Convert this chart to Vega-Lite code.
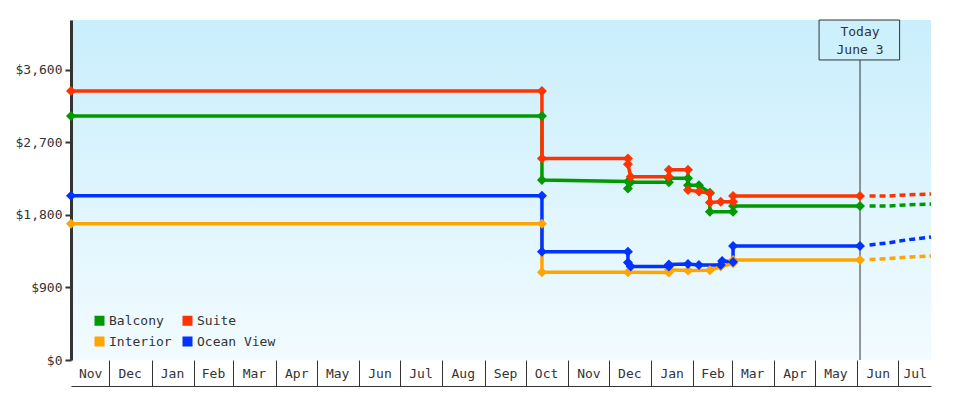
{
  "$schema": "https://vega.github.io/schema/vega-lite/v6.json",
  "width": 860,
  "height": 340,
  "autosize": "none",
  "padding": {"left": 71, "top": 20, "right": 49, "bottom": 40},
  "background": "white",
  "datasets": {
    "history": [
      {"room": "Interior", "seq": 1, "date": "2023-11-03", "price": 1690},
      {"room": "Interior", "seq": 2, "date": "2024-10-13", "price": 1690},
      {"room": "Interior", "seq": 3, "date": "2024-10-13", "price": 1090},
      {"room": "Interior", "seq": 4, "date": "2024-12-15", "price": 1090},
      {"room": "Interior", "seq": 5, "date": "2025-01-14", "price": 1085},
      {"room": "Interior", "seq": 6, "date": "2025-01-14", "price": 1120},
      {"room": "Interior", "seq": 7, "date": "2025-01-28", "price": 1110},
      {"room": "Interior", "seq": 8, "date": "2025-02-13", "price": 1115},
      {"room": "Interior", "seq": 9, "date": "2025-02-21", "price": 1160},
      {"room": "Interior", "seq": 10, "date": "2025-03-02", "price": 1200},
      {"room": "Interior", "seq": 11, "date": "2025-03-02", "price": 1240},
      {"room": "Interior", "seq": 12, "date": "2025-06-03", "price": 1240},

      {"room": "Balcony", "seq": 1, "date": "2023-11-03", "price": 3030},
      {"room": "Balcony", "seq": 2, "date": "2024-10-13", "price": 3030},
      {"room": "Balcony", "seq": 3, "date": "2024-10-13", "price": 2235},
      {"room": "Balcony", "seq": 4, "date": "2024-12-15", "price": 2215},
      {"room": "Balcony", "seq": 5, "date": "2024-12-15", "price": 2130},
      {"room": "Balcony", "seq": 6, "date": "2024-12-17", "price": 2205},
      {"room": "Balcony", "seq": 7, "date": "2025-01-14", "price": 2205},
      {"room": "Balcony", "seq": 8, "date": "2025-01-14", "price": 2255},
      {"room": "Balcony", "seq": 9, "date": "2025-01-28", "price": 2255},
      {"room": "Balcony", "seq": 10, "date": "2025-01-28", "price": 2170},
      {"room": "Balcony", "seq": 11, "date": "2025-02-05", "price": 2170},
      {"room": "Balcony", "seq": 12, "date": "2025-02-13", "price": 2075},
      {"room": "Balcony", "seq": 13, "date": "2025-02-13", "price": 1840},
      {"room": "Balcony", "seq": 14, "date": "2025-03-02", "price": 1840},
      {"room": "Balcony", "seq": 15, "date": "2025-03-02", "price": 1910},
      {"room": "Balcony", "seq": 16, "date": "2025-06-03", "price": 1910},

      {"room": "Ocean View", "seq": 1, "date": "2023-11-03", "price": 2040},
      {"room": "Ocean View", "seq": 2, "date": "2024-10-13", "price": 2040},
      {"room": "Ocean View", "seq": 3, "date": "2024-10-13", "price": 1345},
      {"room": "Ocean View", "seq": 4, "date": "2024-12-15", "price": 1345},
      {"room": "Ocean View", "seq": 5, "date": "2024-12-15", "price": 1210},
      {"room": "Ocean View", "seq": 6, "date": "2024-12-17", "price": 1160},
      {"room": "Ocean View", "seq": 7, "date": "2025-01-14", "price": 1160},
      {"room": "Ocean View", "seq": 8, "date": "2025-01-14", "price": 1185},
      {"room": "Ocean View", "seq": 9, "date": "2025-01-28", "price": 1190},
      {"room": "Ocean View", "seq": 10, "date": "2025-02-05", "price": 1180},
      {"room": "Ocean View", "seq": 11, "date": "2025-02-21", "price": 1180},
      {"room": "Ocean View", "seq": 12, "date": "2025-02-22", "price": 1230},
      {"room": "Ocean View", "seq": 13, "date": "2025-03-02", "price": 1215},
      {"room": "Ocean View", "seq": 14, "date": "2025-03-02", "price": 1415},
      {"room": "Ocean View", "seq": 15, "date": "2025-06-03", "price": 1415},

      {"room": "Suite", "seq": 1, "date": "2023-11-03", "price": 3340},
      {"room": "Suite", "seq": 2, "date": "2024-10-13", "price": 3340},
      {"room": "Suite", "seq": 3, "date": "2024-10-13", "price": 2500},
      {"room": "Suite", "seq": 4, "date": "2024-12-15", "price": 2500},
      {"room": "Suite", "seq": 5, "date": "2024-12-15", "price": 2430},
      {"room": "Suite", "seq": 6, "date": "2024-12-17", "price": 2275},
      {"room": "Suite", "seq": 7, "date": "2025-01-14", "price": 2275},
      {"room": "Suite", "seq": 8, "date": "2025-01-14", "price": 2360},
      {"room": "Suite", "seq": 9, "date": "2025-01-28", "price": 2360},
      {"room": "Suite", "seq": 10, "date": "2025-01-28", "price": 2110},
      {"room": "Suite", "seq": 11, "date": "2025-02-05", "price": 2090},
      {"room": "Suite", "seq": 12, "date": "2025-02-13", "price": 2070},
      {"room": "Suite", "seq": 13, "date": "2025-02-13", "price": 1955},
      {"room": "Suite", "seq": 14, "date": "2025-02-21", "price": 1965},
      {"room": "Suite", "seq": 15, "date": "2025-03-02", "price": 1965},
      {"room": "Suite", "seq": 16, "date": "2025-03-02", "price": 2035},
      {"room": "Suite", "seq": 17, "date": "2025-06-03", "price": 2035}
    ],
    "forecast": [
      {"room": "Interior", "date": "2025-06-10", "price": 1248},
      {"room": "Interior", "date": "2025-06-23", "price": 1257},
      {"room": "Interior", "date": "2025-07-07", "price": 1275},
      {"room": "Interior", "date": "2025-07-25", "price": 1291},
      {"room": "Balcony", "date": "2025-06-10", "price": 1910},
      {"room": "Balcony", "date": "2025-06-23", "price": 1910},
      {"room": "Balcony", "date": "2025-07-07", "price": 1925},
      {"room": "Balcony", "date": "2025-07-25", "price": 1935},
      {"room": "Ocean View", "date": "2025-06-10", "price": 1428},
      {"room": "Ocean View", "date": "2025-06-23", "price": 1452},
      {"room": "Ocean View", "date": "2025-07-07", "price": 1490},
      {"room": "Ocean View", "date": "2025-07-25", "price": 1527},
      {"room": "Suite", "date": "2025-06-10", "price": 2035},
      {"room": "Suite", "date": "2025-06-23", "price": 2035},
      {"room": "Suite", "date": "2025-07-07", "price": 2050},
      {"room": "Suite", "date": "2025-07-25", "price": 2060}
    ],
    "today": [
      {"date": "2025-06-03", "boxStart": "2025-05-04", "boxEnd": "2025-07-02", "floor": 0, "low": 3724, "high": 4220, "mid": 3972, "label": "Today\nJune 3"}
    ]
  },
  "encoding": {
    "x": {
      "field": "date",
      "type": "temporal",
      "scale": {
        "type": "utc",
        "domain": [
          {"year": 2023, "month": 11, "date": 3, "utc": true},
          {"year": 2025, "month": 7, "date": 25, "utc": true}
        ]
      },
      "axis": {
        "title": null,
        "offset": 26,
        "domainColor": "#333",
        "domainWidth": 1,
        "tickSize": -26,
        "tickColor": "#333",
        "tickWidth": 1,
        "tickOpacity": {"condition": {"test": "utcdate(datum.value) != 1", "value": 0}, "value": 1},
        "labelBaseline": "middle",
        "labelAlign": "center",
        "labelPadding": 13,
        "labelOverlap": false,
        "labelFlush": false,
        "labelExpr": "utcdate(datum.value) == 1 ? '' : utcFormat(datum.value, '%b')",
        "values": [
          {"year": 2023, "month": 11, "date": 17, "utc": true},
          {"year": 2023, "month": 12, "date": 1, "utc": true},
          {"year": 2023, "month": 12, "date": 16, "utc": true},
          {"year": 2024, "month": 1, "date": 1, "utc": true},
          {"year": 2024, "month": 1, "date": 16, "utc": true},
          {"year": 2024, "month": 2, "date": 1, "utc": true},
          {"year": 2024, "month": 2, "date": 15, "utc": true},
          {"year": 2024, "month": 3, "date": 1, "utc": true},
          {"year": 2024, "month": 3, "date": 16, "utc": true},
          {"year": 2024, "month": 4, "date": 1, "utc": true},
          {"year": 2024, "month": 4, "date": 16, "utc": true},
          {"year": 2024, "month": 5, "date": 1, "utc": true},
          {"year": 2024, "month": 5, "date": 16, "utc": true},
          {"year": 2024, "month": 6, "date": 1, "utc": true},
          {"year": 2024, "month": 6, "date": 16, "utc": true},
          {"year": 2024, "month": 7, "date": 1, "utc": true},
          {"year": 2024, "month": 7, "date": 16, "utc": true},
          {"year": 2024, "month": 8, "date": 1, "utc": true},
          {"year": 2024, "month": 8, "date": 16, "utc": true},
          {"year": 2024, "month": 9, "date": 1, "utc": true},
          {"year": 2024, "month": 9, "date": 16, "utc": true},
          {"year": 2024, "month": 10, "date": 1, "utc": true},
          {"year": 2024, "month": 10, "date": 16, "utc": true},
          {"year": 2024, "month": 11, "date": 1, "utc": true},
          {"year": 2024, "month": 11, "date": 16, "utc": true},
          {"year": 2024, "month": 12, "date": 1, "utc": true},
          {"year": 2024, "month": 12, "date": 16, "utc": true},
          {"year": 2025, "month": 1, "date": 1, "utc": true},
          {"year": 2025, "month": 1, "date": 16, "utc": true},
          {"year": 2025, "month": 2, "date": 1, "utc": true},
          {"year": 2025, "month": 2, "date": 15, "utc": true},
          {"year": 2025, "month": 3, "date": 1, "utc": true},
          {"year": 2025, "month": 3, "date": 16, "utc": true},
          {"year": 2025, "month": 4, "date": 1, "utc": true},
          {"year": 2025, "month": 4, "date": 16, "utc": true},
          {"year": 2025, "month": 5, "date": 1, "utc": true},
          {"year": 2025, "month": 5, "date": 16, "utc": true},
          {"year": 2025, "month": 6, "date": 1, "utc": true},
          {"year": 2025, "month": 6, "date": 16, "utc": true},
          {"year": 2025, "month": 7, "date": 1, "utc": true},
          {"year": 2025, "month": 7, "date": 13, "utc": true}
        ]
      }
    },
    "y": {
      "field": "price",
      "type": "quantitative",
      "scale": {"domain": [0, 4220], "nice": false},
      "axis": {
        "title": null,
        "values": [0, 900, 1800, 2700, 3600],
        "format": "$,.0f",
        "domainColor": "#333",
        "domainWidth": 3,
        "tickColor": "#333",
        "tickWidth": 2,
        "tickSize": 6,
        "labelPadding": 3
      }
    },
    "color": {
      "field": "room",
      "type": "nominal",
      "scale": {
        "domain": ["Balcony", "Suite", "Interior", "Ocean View"],
        "range": ["#009900", "#ff3300", "#ffa500", "#0033ff"]
      },
      "legend": {
        "title": null,
        "orient": "none",
        "direction": "horizontal",
        "legendX": 22,
        "legendY": 294,
        "columns": 2,
        "padding": 0,
        "rowPadding": 7,
        "columnPadding": 9,
        "symbolType": "square",
        "symbolSize": 100,
        "symbolStrokeWidth": 0,
        "symbolOpacity": 1,
        "labelOffset": 3,
        "labelFont": "DejaVu Sans Mono",
        "labelFontSize": 13,
        "labelColor": "#333"
      }
    }
  },
  "layer": [
    {
      "mark": {"type": "rule", "color": "#333", "strokeWidth": 1},
      "encoding": {"x": null, "color": null, "y": {"datum": 0}}
    },
    {
      "data": {"name": "today"},
      "mark": {"type": "rule", "color": "#333", "strokeWidth": 1},
      "encoding": {
        "color": null,
        "y": {"field": "floor", "type": "quantitative"},
        "y2": {"field": "low"}
      }
    },
    {
      "data": {"name": "today"},
      "mark": {"type": "rect", "fill": "#ccf0fc", "stroke": "#333", "strokeWidth": 1},
      "encoding": {
        "color": null,
        "x": {"field": "boxStart", "type": "temporal"},
        "x2": {"field": "boxEnd"},
        "y": {"field": "low", "type": "quantitative"},
        "y2": {"field": "high"}
      }
    },
    {
      "data": {"name": "today"},
      "mark": {"type": "text", "lineBreak": "\n", "lineHeight": 18, "dy": -8, "font": "DejaVu Sans Mono", "fontSize": 13, "color": "#333", "baseline": "middle", "align": "center"},
      "encoding": {
        "color": null,
        "y": {"field": "mid", "type": "quantitative"},
        "text": {"field": "label"}
      }
    },
    {
      "data": {"name": "forecast"},
      "mark": {"type": "line", "strokeWidth": 3.5, "strokeDash": [6, 4]},
      "encoding": {}
    },
    {
      "data": {"name": "history"},
      "mark": {"type": "line", "strokeWidth": 3.5},
      "encoding": {
        "order": {"field": "seq"}
      }
    },
    {
      "data": {"name": "history"},
      "mark": {"type": "point", "shape": "diamond", "filled": true, "size": 100, "opacity": 1},
      "encoding": {}
    }
  ],
  "config": {
    "view": {
      "stroke": null,
      "fill": {
        "gradient": "linear",
        "x1": 0, "y1": 0, "x2": 0, "y2": 1,
        "stops": [
          {"offset": 0, "color": "#c9eefc"},
          {"offset": 1, "color": "#f2fbff"}
        ]
      }
    },
    "axis": {
      "grid": false,
      "labelFont": "DejaVu Sans Mono",
      "labelFontSize": 13,
      "labelColor": "#333"
    }
  }
}
